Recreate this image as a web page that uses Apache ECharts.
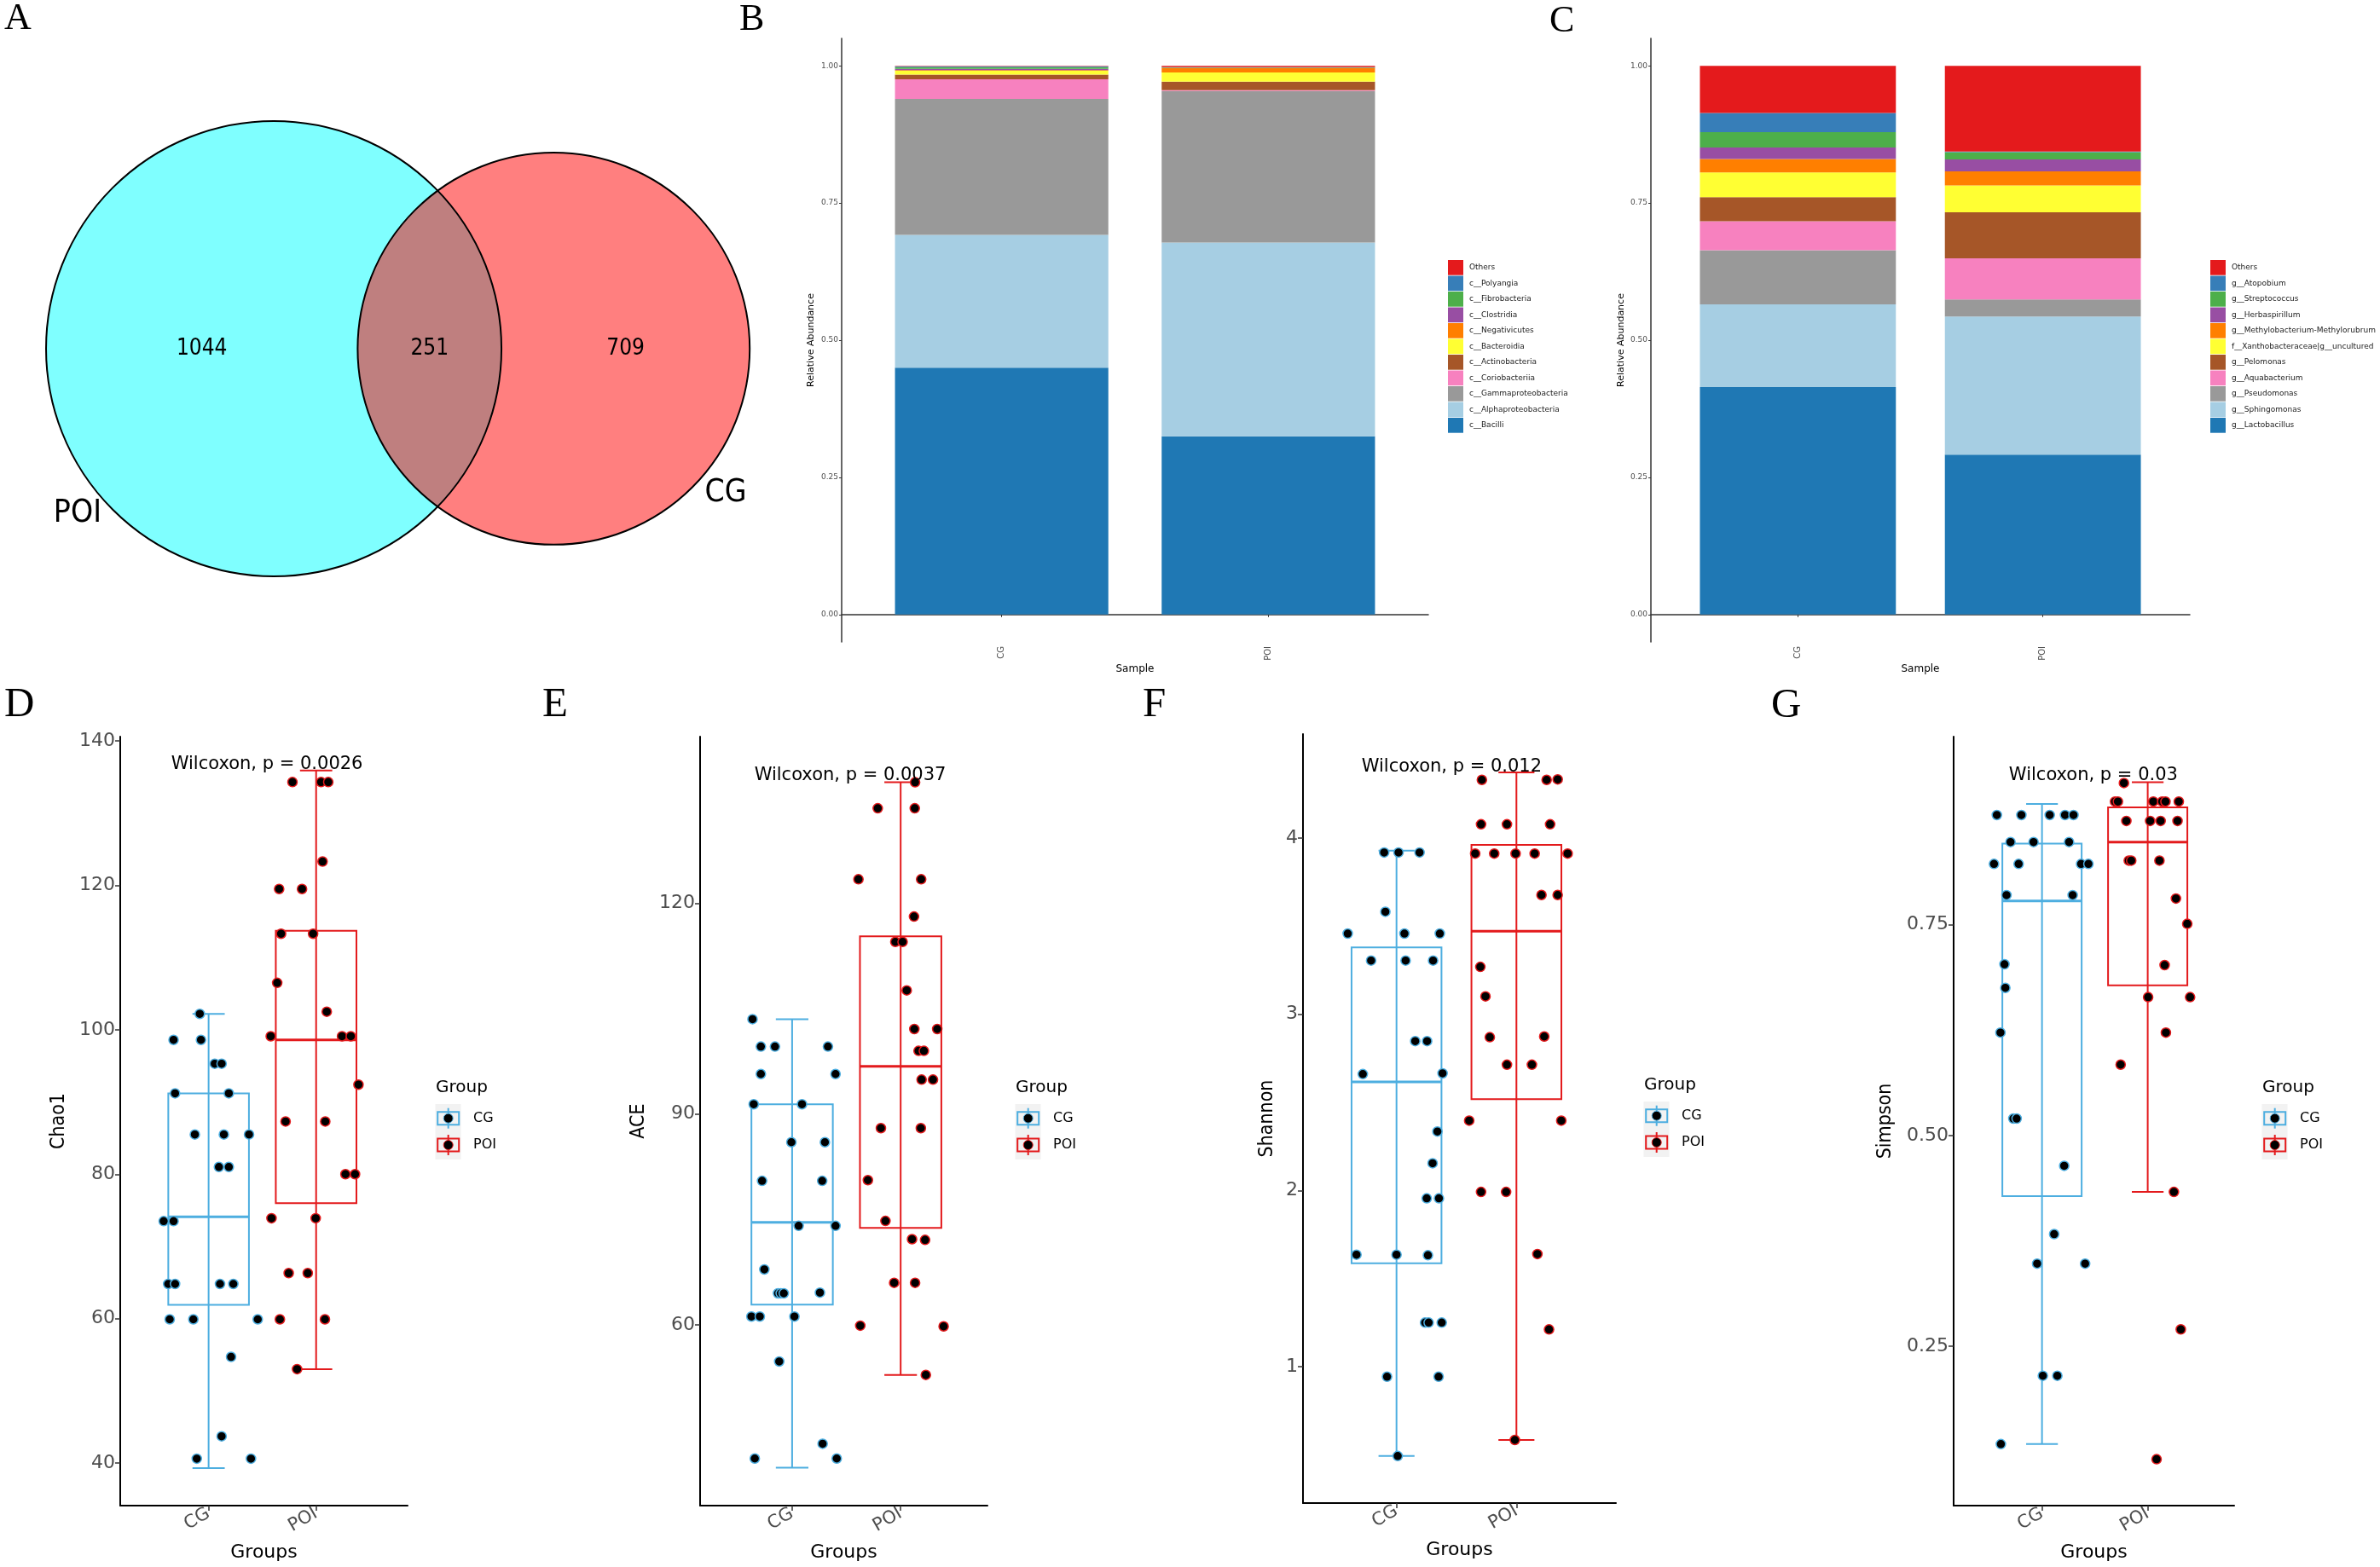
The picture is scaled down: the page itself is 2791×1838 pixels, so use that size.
<!DOCTYPE html>
<html><head><meta charset="utf-8">
<script src="https://cdn.jsdelivr.net/npm/echarts@6/dist/echarts.min.js"></script>
<style>html,body{margin:0;padding:0;background:#fff}#c{width:2791px;height:1838px}</style>
</head><body><div id="c"></div>
<script>
// ================= DATA =================
// Venn (A)
const vennSetNames = ['POI', 'CG'];
const vennOnlyPOI = 1044, vennBoth = 251, vennOnlyCG = 709;

// Stacked bars (B, C)
const samples = ['CG', 'POI'];
const abundanceTicks = [0, 0.25, 0.5, 0.75, 1];
const classNames = ['c__Bacilli','c__Alphaproteobacteria','c__Gammaproteobacteria','c__Coriobacteriia','c__Actinobacteria','c__Bacteroidia','c__Negativicutes','c__Clostridia','c__Fibrobacteria','c__Polyangia','Others'];
const classCG  = [0.450,0.242,0.2475,0.036,0.0083,0.0072,0.001,0.0025,0.003,0.0015,0.001];
const classPOI = [0.325,0.353,0.276,0.0015,0.0155,0.017,0.008,0.0005,0.0005,0.0005,0.0025];
const genusNames = ['g__Lactobacillus','g__Sphingomonas','g__Pseudomonas','g__Aquabacterium','g__Pelomonas','f__Xanthobacteraceae|g__uncultured','g__Methylobacterium-Methylorubrum','g__Herbaspirillum','g__Streptococcus','g__Atopobium','Others'];
const genusCG  = [0.4147,0.1506,0.0987,0.0527,0.0438,0.0452,0.0245,0.0208,0.0281,0.0349,0.086];
const genusPOI = [0.2915,0.2515,0.0312,0.0749,0.0838,0.049,0.0259,0.0216,0.0133,0.001,0.1563];
const taxaColors = ['#1F78B4','#A6CEE3','#999999','#F781BF','#A65628','#FFFF33','#FF7F00','#984EA3','#4DAF4A','#377EB8','#E41A1C'];

// Alpha diversity (D-G): jittered points [x, value] and box stats [min, q1, median, q3, max]
const chao1Ticks = [40,60,80,100,120,140];
const chao1CG = [[0.918,102.2],[0.674,98.6],[0.929,98.6],[1.057,95.3],[1.121,95.3],[0.688,91.2],[1.188,91.2],[0.872,85.5],[1.142,85.5],[1.376,85.5],[1.096,81.0],[1.188,81.0],[0.582,73.5],[0.674,73.5],[0.624,64.8],[0.688,64.8],[1.106,64.8],[1.230,64.8],[0.638,59.9],[0.858,59.9],[1.457,59.9],[1.209,54.7],[1.121,43.7],[0.890,40.6],[1.394,40.6]];
const chao1POI = [[1.780,134.3],[2.046,134.3],[2.113,134.3],[2.060,123.3],[1.656,119.5],[1.869,119.5],[1.674,113.3],[1.972,113.3],[1.638,106.5],[2.099,102.5],[1.578,99.1],[2.241,99.1],[2.323,99.1],[2.394,92.4],[1.716,87.3],[2.085,87.3],[2.273,80.0],[2.362,80.0],[1.585,73.9],[1.996,73.9],[1.745,66.3],[1.922,66.3],[1.663,59.9],[2.082,59.9],[1.823,53.0]];
const chao1BoxCG = [39.3,61.9,74.1,91.2,102.2];
const chao1BoxPOI = [53.0,76.0,98.6,113.7,135.9];
const chao1Label = 'Wilcoxon, p = 0.0026';

const aceTicks = [60,90,120];
const aceCG = [[0.635,103.5],[0.712,99.6],[0.842,99.6],[1.330,99.6],[0.712,95.7],[1.400,95.7],[0.646,91.4],[1.091,91.4],[0.993,86.0],[1.302,86.0],[0.723,80.5],[1.277,80.5],[1.060,74.1],[1.400,74.1],[0.744,67.9],[0.870,64.5],[0.895,64.5],[0.923,64.5],[1.256,64.6],[0.625,61.2],[0.702,61.2],[1.021,61.2],[0.881,54.8],[1.281,43.1],[0.656,41.0],[1.411,41.0]];
const acePOI = [[2.133,137.2],[1.789,133.5],[2.130,133.5],[1.611,123.4],[2.189,123.4],[2.123,118.1],[1.951,114.5],[2.018,114.5],[2.056,107.6],[2.126,102.1],[2.337,102.1],[2.165,99.0],[2.214,99.0],[2.193,94.9],[2.298,94.9],[1.818,88.0],[2.186,88.0],[1.698,80.6],[1.860,74.8],[2.105,72.2],[2.225,72.1],[1.940,66.0],[2.133,66.0],[1.628,59.9],[2.396,59.8],[2.232,52.9]];
const aceBoxCG = [39.7,62.9,74.6,91.4,103.5];
const aceBoxPOI = [52.9,73.8,96.8,115.3,137.2];
const aceLabel = 'Wilcoxon, p = 0.0037';

const shannonTicks = [1,2,3,4];
const shannonCG = [[0.897,3.918],[1.017,3.918],[1.192,3.918],[0.907,3.582],[0.593,3.458],[1.066,3.458],[1.361,3.458],[0.788,3.305],[1.076,3.305],[1.305,3.305],[1.156,2.848],[1.255,2.848],[0.719,2.661],[1.384,2.665],[1.341,2.335],[1.301,2.155],[1.252,1.956],[1.354,1.956],[0.666,1.636],[1.000,1.636],[1.262,1.633],[1.238,1.251],[1.268,1.251],[1.377,1.251],[0.921,0.944],[1.351,0.944],[1.010,0.494]];
const shannonPOI = [[1.712,4.330],[2.252,4.330],[2.344,4.333],[1.705,4.078],[1.921,4.078],[2.281,4.078],[1.656,3.912],[1.815,3.912],[1.993,3.912],[2.152,3.912],[2.427,3.912],[2.209,3.677],[2.344,3.677],[1.699,3.269],[1.742,3.102],[1.778,2.870],[2.232,2.874],[1.921,2.714],[2.129,2.714],[1.606,2.397],[2.374,2.397],[1.705,1.992],[1.914,1.992],[2.175,1.640],[2.272,1.212],[1.987,0.585]];
const shannonBoxCG = [0.494,1.587,2.616,3.380,3.928];
const shannonBoxPOI = [0.585,2.518,3.471,3.961,4.372];
const shannonLabel = 'Wilcoxon, p = 0.012';

const simpsonTicks = [0.25,0.5,0.75];
const simpsonCG = [[0.573,0.880],[0.805,0.880],[1.073,0.880],[1.218,0.880],[1.298,0.880],[0.702,0.848],[0.920,0.848],[1.256,0.848],[0.546,0.822],[0.779,0.822],[1.370,0.822],[1.439,0.822],[0.664,0.785],[1.290,0.785],[0.645,0.703],[0.653,0.675],[0.607,0.622],[0.729,0.520],[0.760,0.520],[1.210,0.464],[1.115,0.383],[0.954,0.348],[1.408,0.348],[1.008,0.215],[1.145,0.215],[0.611,0.134]];
const simpsonPOI = [[1.775,0.918],[1.691,0.896],[1.718,0.896],[2.053,0.896],[2.137,0.896],[2.168,0.896],[2.294,0.896],[1.798,0.873],[2.023,0.873],[2.122,0.873],[2.282,0.873],[1.821,0.826],[1.844,0.826],[2.111,0.826],[2.267,0.781],[2.374,0.751],[2.160,0.702],[2.004,0.664],[2.401,0.664],[2.172,0.622],[1.744,0.584],[2.248,0.433],[2.313,0.270],[2.084,0.116]];
const simpsonBoxCG = [0.134,0.428,0.778,0.846,0.893];
const simpsonBoxPOI = [0.433,0.678,0.848,0.889,0.919];
const simpsonLabel = 'Wilcoxon, p = 0.03';

// ================= STYLE / LAYOUT =================
const SANS = "'DejaVu Sans', sans-serif";
const COND = "'DejaVu Sans Condensed', 'DejaVu Sans', sans-serif";
const SERIF = "'Liberation Serif', 'Times New Roman', serif";
const COL_CG = '#4DAEE0', COL_POI = '#E31A1C';

const chart = echarts.init(document.getElementById('c'));
const grids = [], xAxes = [], yAxes = [], series = [], graphics = [], legends = [];

// ---- A: Venn (hidden value grid, 7.42 px per unit, radius = sqrt(set size)) ----
grids.push({left: 0, top: 0, width: 900, height: 800});
xAxes.push({type: 'value', gridIndex: 0, min: 0, max: 900 / 7.42, show: false});
yAxes.push({type: 'value', gridIndex: 0, min: 0, max: 800 / 7.42, show: false});
const nPOI = vennOnlyPOI + vennBoth, nCG = vennOnlyCG + vennBoth;
const r1 = Math.sqrt(nPOI), r2 = Math.sqrt(nCG);
function lensArea(d) {
  const d1 = (d * d + r1 * r1 - r2 * r2) / (2 * d), d2 = d - d1;
  return r1 * r1 * Math.acos(d1 / r1) - d1 * Math.sqrt(r1 * r1 - d1 * d1) +
         r2 * r2 * Math.acos(d2 / r2) - d2 * Math.sqrt(r2 * r2 - d2 * d2);
}
let lo = Math.abs(r1 - r2) + 1e-6, hi = r1 + r2 - 1e-6;
for (let i = 0; i < 80; i++) { const m = (lo + hi) / 2; if (lensArea(m) > Math.PI * vennBoth) lo = m; else hi = m; }
const dist = (lo + hi) / 2;
const vcy = 52.7, vcx1 = 7.28 + r1, vcx2 = vcx1 + dist;
const vennCircles = [[vcx1, vcy, r1], [vcx2, vcy, r2]];
const vennFills = ['rgba(0,255,255,0.5)', 'rgba(255,0,0,0.5)'];
series.push({type: 'custom', xAxisIndex: 0, yAxisIndex: 0, data: vennCircles, silent: true,
  renderItem: (p, api) => {
    const c = api.coord([api.value(0), api.value(1)]);
    const r = api.size([api.value(2), 0])[0];
    return {type: 'circle', shape: {cx: c[0], cy: c[1], r: r}, style: {fill: vennFills[p.dataIndex]}};
  }});
series.push({type: 'custom', xAxisIndex: 0, yAxisIndex: 0, data: vennCircles, silent: true, z: 3,
  renderItem: (p, api) => {
    const c = api.coord([api.value(0), api.value(1)]);
    const r = api.size([api.value(2), 0])[0];
    return {type: 'circle', shape: {cx: c[0], cy: c[1], r: r}, style: {fill: 'none', stroke: '#000', lineWidth: 2}};
  }});
const vennTexts = [
  [((vcx1 - r1) + (vcx2 - r2)) / 2, vcy, String(vennOnlyPOI), 26],
  [((vcx2 - r2) + (vcx1 + r1)) / 2, vcy, String(vennBoth), 26],
  [((vcx1 + r1) + (vcx2 + r2)) / 2, vcy, String(vennOnlyCG), 26],
  [vcx1 + (r1 + 4.5) * Math.cos(220 * Math.PI / 180), vcy + (r1 + 4.5) * Math.sin(220 * Math.PI / 180), vennSetNames[0], 37],
  [vcx2 + (r2 + 4.5) * Math.cos(320 * Math.PI / 180), vcy + (r2 + 4.5) * Math.sin(320 * Math.PI / 180), vennSetNames[1], 37]
];
series.push({type: 'custom', xAxisIndex: 0, yAxisIndex: 0, data: vennTexts, silent: true, z: 4,
  renderItem: (p, api) => {
    const c = api.coord([api.value(0), api.value(1)]);
    const t = vennTexts[p.dataIndex];
    return {type: 'text', x: c[0], y: c[1], style: {text: t[2], fontSize: t[3], fontFamily: COND, fill: '#000', align: 'center', verticalAlign: 'middle'}};
  }});

// ---- B, C: stacked bars (custom series: each segment spans [bottom, top] on the value scale) ----
function stackRenderer(color) {
  return (p, api) => {
    const x = api.value(0), b = api.value(1), t = api.value(2);
    const tl = api.coord([x - 0.4, t]), br = api.coord([x + 0.4, b]);
    return {type: 'rect', shape: {x: tl[0], y: tl[1], width: br[0] - tl[0], height: br[1] - tl[1]}, style: {fill: color}};
  };
}
function barPanel(gIdx, grid, names, vCG, vPOI, nameGapY, legendLeft) {
  grids.push(grid);
  xAxes.push({type: 'value', gridIndex: gIdx, min: 0.4, max: 2.6,
    axisLine: {show: true, lineStyle: {color: '#333', width: 1.5}},
    axisTick: {show: true, length: 3, lineStyle: {color: '#333'}, customValues: [1, 2]},
    axisLabel: {show: true, customValues: [1, 2], rotate: 90, margin: 5, fontSize: 10, color: '#4D4D4D', fontFamily: SANS,
      formatter: v => samples[Math.round(v) - 1]},
    splitLine: {show: false},
    name: 'Sample', nameLocation: 'middle', nameGap: 23, nameTextStyle: {fontSize: 12, color: '#000', fontFamily: SANS}});
  yAxes.push({type: 'value', gridIndex: gIdx, min: -0.05, max: 1.05,
    axisLine: {show: true, lineStyle: {color: '#333', width: 1.5}},
    axisTick: {show: true, length: 3, lineStyle: {color: '#333'}, customValues: abundanceTicks},
    axisLabel: {show: true, customValues: abundanceTicks, margin: 4, fontSize: 9, color: '#4D4D4D', fontFamily: SANS,
      formatter: v => v.toFixed(2)},
    splitLine: {show: false},
    name: 'Relative Abundance', nameLocation: 'middle', nameGap: nameGapY, nameTextStyle: {fontSize: 11, color: '#000', fontFamily: SANS}});
  let cumCG = 0, cumPOI = 0;
  names.forEach((nm, i) => {
    const segs = [[1, cumCG, cumCG + vCG[i]], [2, cumPOI, cumPOI + vPOI[i]]];
    cumCG += vCG[i]; cumPOI += vPOI[i];
    series.push({type: 'custom', name: nm, xAxisIndex: gIdx, yAxisIndex: gIdx, silent: true,
      data: segs, itemStyle: {color: taxaColors[i]}, renderItem: stackRenderer(taxaColors[i])});
  });
  legends.push({orient: 'vertical', left: legendLeft, top: 300, itemWidth: 18, itemHeight: 17.7, itemGap: 0.8,
    icon: 'rect', selectedMode: false, data: names.slice().reverse(),
    textStyle: {fontSize: 9, color: '#1A1A1A', fontFamily: SANS, padding: [0, 0, 0, 2]}});
}
barPanel(1, {left: 987, top: 45, width: 688, height: 708}, classNames, classCG, classPOI, 30, 1693);
barPanel(2, {left: 1936, top: 45, width: 632, height: 708}, genusNames, genusCG, genusPOI, 29, 2587);

// ---- D-G: box + jitter ----
function boxRenderer(color) {
  return (p, api) => {
    const x = api.value(0);
    const mn = api.value(1), q1 = api.value(2), md = api.value(3), q3 = api.value(4), mx = api.value(5);
    const bw = 0.75 / 2, cw = 0.3 / 2;
    const a = api.coord([x, mn]), b = api.coord([x, mx]);
    const bl = api.coord([x - bw, q1]), tr = api.coord([x + bw, q3]);
    const ml = api.coord([x - bw, md]), mr = api.coord([x + bw, md]);
    const c1 = api.coord([x - cw, mn]), c2 = api.coord([x + cw, mn]);
    const c3 = api.coord([x - cw, mx]), c4 = api.coord([x + cw, mx]);
    const ls = {stroke: color, lineWidth: 2};
    return {type: 'group', children: [
      {type: 'line', shape: {x1: a[0], y1: a[1], x2: b[0], y2: b[1]}, style: ls},
      {type: 'line', shape: {x1: c1[0], y1: c1[1], x2: c2[0], y2: c2[1]}, style: ls},
      {type: 'line', shape: {x1: c3[0], y1: c3[1], x2: c4[0], y2: c4[1]}, style: ls},
      {type: 'rect', shape: {x: bl[0], y: tr[1], width: tr[0] - bl[0], height: bl[1] - tr[1]}, style: {fill: 'none', stroke: color, lineWidth: 2}},
      {type: 'line', shape: {x1: ml[0], y1: ml[1], x2: mr[0], y2: mr[1]}, style: {stroke: color, lineWidth: 3}}
    ]};
  };
}
function boxPanel(gIdx, cfg) {
  grids.push(cfg.grid);
  xAxes.push({type: 'value', gridIndex: gIdx, min: cfg.x[0], max: cfg.x[1],
    axisLine: {show: true, lineStyle: {color: '#000', width: 2}},
    axisTick: {show: true, length: 6, lineStyle: {color: '#333', width: 1.5}, customValues: [1, 2]},
    axisLabel: {show: true, customValues: [1, 2], rotate: 30, margin: 8, fontSize: 21, color: '#4D4D4D', fontFamily: SANS,
      formatter: v => samples[Math.round(v) - 1]},
    splitLine: {show: false},
    name: 'Groups', nameLocation: 'middle', nameGap: 44, nameTextStyle: {fontSize: 22, color: '#000', fontFamily: SANS}});
  yAxes.push({type: 'value', gridIndex: gIdx, min: cfg.y[0], max: cfg.y[1],
    axisLine: {show: true, lineStyle: {color: '#000', width: 2}},
    axisTick: {show: true, length: 6, lineStyle: {color: '#333', width: 1.5}, customValues: cfg.ticks},
    axisLabel: {show: true, customValues: cfg.ticks, margin: 6, fontSize: 22, color: '#4D4D4D', fontFamily: SANS,
      formatter: cfg.fmt},
    splitLine: {show: false},
    name: cfg.title, nameLocation: 'middle', nameGap: cfg.nameGap, nameTextStyle: {fontSize: 23, color: '#000', fontFamily: COND}});
  [[cfg.boxCG, COL_CG, 1], [cfg.boxPOI, COL_POI, 2]].forEach(([bx, col, xi]) => {
    series.push({type: 'custom', xAxisIndex: gIdx, yAxisIndex: gIdx, silent: true, z: 2,
      data: [[xi].concat(bx)], renderItem: boxRenderer(col)});
  });
  [[cfg.ptsCG, COL_CG], [cfg.ptsPOI, COL_POI]].forEach(([pts, col]) => {
    series.push({type: 'scatter', xAxisIndex: gIdx, yAxisIndex: gIdx, silent: true, z: 3, symbolSize: 11,
      data: pts, itemStyle: {color: '#000', borderColor: col, borderWidth: 1.5, opacity: 1}});
  });
  series.push({type: 'custom', xAxisIndex: gIdx, yAxisIndex: gIdx, silent: true, z: 4,
    data: [cfg.labelPos], renderItem: (p, api) => {
      const c = api.coord([api.value(0), api.value(1)]);
      return {type: 'text', x: c[0], y: c[1], style: {text: cfg.label, fontSize: 21, fontFamily: SANS, fill: '#000', align: 'center', verticalAlign: 'middle'}};
    }});
  // Group legend key (ggplot style)
  const lx = cfg.legend[0], ly = cfg.legend[1];
  graphics.push({type: 'text', x: lx, y: ly, style: {text: 'Group', fontSize: 20, fontFamily: SANS, fill: '#000', verticalAlign: 'middle'}});
  graphics.push({type: 'rect', shape: {x: lx - 0.5, y: ly + 19, width: 30, height: 65}, style: {fill: '#F2F2F2'}});
  [[samples[0], COL_CG], [samples[1], COL_POI]].forEach(([nm, col], k) => {
    const cx = lx + 14.7, cy = ly + 35.7 + k * 31.3;
    graphics.push({type: 'line', shape: {x1: cx, y1: cy - 12, x2: cx, y2: cy + 12}, style: {stroke: col, lineWidth: 2}});
    graphics.push({type: 'rect', shape: {x: cx - 12.5, y: cy - 7.5, width: 25, height: 15}, style: {fill: 'none', stroke: col, lineWidth: 2}});
    graphics.push({type: 'circle', shape: {cx: cx, cy: cy, r: 5.5}, style: {fill: '#000', stroke: col, lineWidth: 1}});
    graphics.push({type: 'text', x: lx + 44, y: cy, style: {text: nm, fontSize: 16, fontFamily: SANS, fill: '#000', verticalAlign: 'middle'}});
  });
}
const intFmt = v => String(Math.round(v));
boxPanel(3, {grid: {left: 141, top: 864, width: 337, height: 902}, x: [0.178, 2.851], y: [34.1, 140.6], ticks: chao1Ticks, fmt: intFmt,
  title: 'Chao1', nameGap: 60, boxCG: chao1BoxCG, boxPOI: chao1BoxPOI, ptsCG: chao1CG, ptsPOI: chao1POI,
  label: chao1Label, labelPos: [1.543, 136.8], legend: [511, 1276]});
boxPanel(4, {grid: {left: 821, top: 864, width: 337, height: 902}, x: [0.152, 2.80], y: [34.3, 143.7], ticks: aceTicks, fmt: intFmt,
  title: 'ACE', nameGap: 60, boxCG: aceBoxCG, boxPOI: aceBoxPOI, ptsCG: aceCG, ptsPOI: acePOI,
  label: aceLabel, labelPos: [1.535, 138.2], legend: [1191, 1276]});
boxPanel(5, {grid: {left: 1528, top: 861, width: 367, height: 902}, x: [0.22, 2.83], y: [0.227, 4.59], ticks: shannonTicks, fmt: intFmt,
  title: 'Shannon', nameGap: 30, boxCG: shannonBoxCG, boxPOI: shannonBoxPOI, ptsCG: shannonCG, ptsPOI: shannonPOI,
  label: shannonLabel, labelPos: [1.46, 4.405], legend: [1928, 1273]});
boxPanel(6, {grid: {left: 2291, top: 864, width: 329, height: 902}, x: [0.164, 2.818], y: [0.061, 0.973], ticks: simpsonTicks, fmt: v => v.toFixed(2),
  title: 'Simpson', nameGap: 68, boxCG: simpsonBoxCG, boxPOI: simpsonBoxPOI, ptsCG: simpsonCG, ptsPOI: simpsonPOI,
  label: simpsonLabel, labelPos: [1.486, 0.9266], legend: [2653, 1276]});

// Panel letters
[['A', 5, 22.5, 44], ['B', 867, 23.5, 44], ['C', 1817, 25.5, 44], ['D', 5, 827, 49], ['E', 636, 827, 49], ['F', 1340, 827, 49], ['G', 2077, 828, 49]]
  .forEach(([t, x, y, s]) => graphics.push({type: 'text', x: x, y: y, style: {text: t, fontSize: s, fontFamily: SERIF, fill: '#000', verticalAlign: 'middle'}}));

chart.setOption({
  animation: false,
  backgroundColor: '#fff',
  grid: grids, xAxis: xAxes, yAxis: yAxes, series: series, legend: legends,
  graphic: {elements: graphics}
});
</script></body></html>
